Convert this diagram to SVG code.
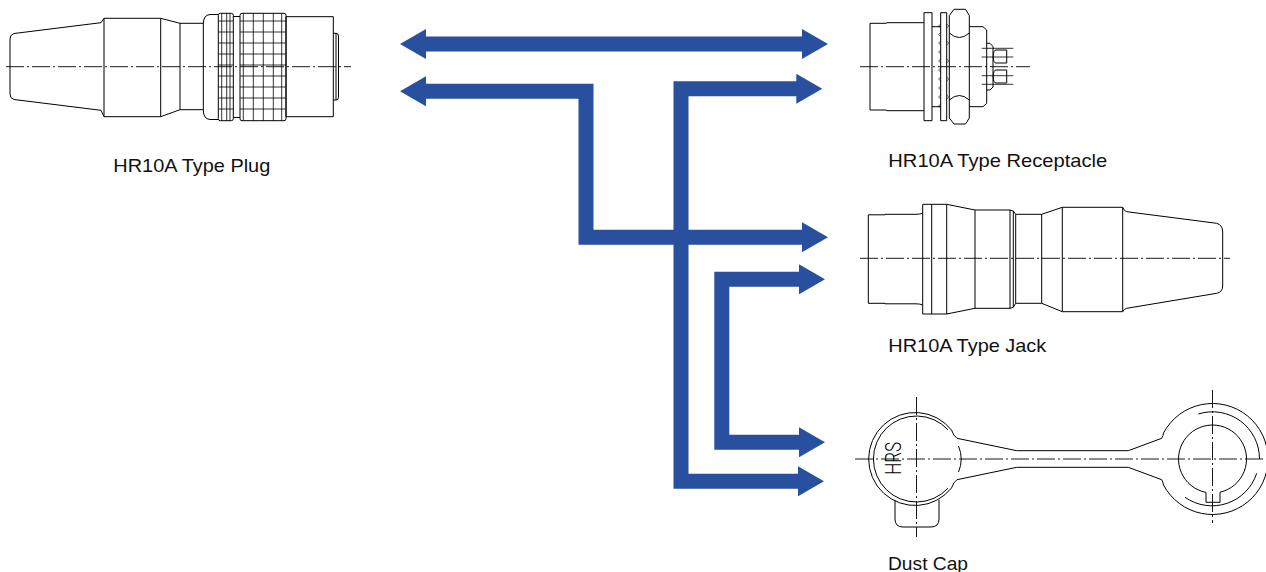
<svg xmlns="http://www.w3.org/2000/svg" width="1266" height="572" viewBox="0 0 1266 572">
<style>
.ln{fill:none;stroke:#000;stroke-width:1;stroke-linejoin:round}
.cl{fill:none;stroke:#000;stroke-width:0.9;stroke-dasharray:18 3 2 3}
.kn{fill:none;stroke:#000;stroke-width:0.8}
.th{fill:none;stroke:#000;stroke-width:0.6}
.lbl{font-family:"Liberation Sans",Arial,sans-serif;font-size:18.5px;fill:#111}
.con{fill:none;stroke:#294f9f;stroke-width:15;stroke-linejoin:miter;stroke-linecap:butt}
</style>
<defs>
<marker id="ah" markerUnits="userSpaceOnUse" markerWidth="27" markerHeight="30" refX="1" refY="15" orient="auto-start-reverse" viewBox="0 0 27 30">
<path d="M0,0 L26,15 L0,30 Z" fill="#294f9f"/>
</marker>
</defs>
<rect width="1266" height="572" fill="#fff"/>

<g id="plug">
<path class="cl" d="M6,66.7 H351"/>
<path class="ln" d="M104,18.3 L101,22.7 L14,33.5 Q10,34.5 10,39 V94 Q10,98.5 14,99.5 L101,110.3 L104,116.7"/>
<rect class="ln" x="104" y="18.3" width="56.7" height="98.4"/>
<path class="ln" d="M160.7,18.3 L180,23.3 V109.7 L160.7,116.7 M180,23.3 H203.3 M180,109.7 H203.3"/>
<path class="ln" d="M218.3,14.5 H210 Q203.3,15 203.3,24 V110 Q203.3,119 210,119.5 H218.3"/>
<rect class="ln" x="218.3" y="13.3" width="15" height="107.4" rx="2"/>
<path class="ln" d="M233.3,16.5 H240 M233.3,117.5 H240"/>
<rect class="ln" x="240" y="13.3" width="46" height="107.4" rx="2"/>
<path class="kn" d="M221.7,13.3 V120.7 M226.7,13.3 V120.7 M230,13.3 V120.7 M243.3,13.3 V120.7 M253.3,13.3 V120.7 M263.3,13.3 V120.7 M273.3,13.3 V120.7 M281.7,13.3 V120.7
M218.3,21 H233.3 M218.3,32 H233.3 M218.3,43 H233.3 M218.3,54 H233.3 M218.3,65 H233.3 M218.3,76 H233.3 M218.3,87 H233.3 M218.3,98 H233.3 M218.3,109 H233.3
M240,21 H286 M240,32 H286 M240,43 H286 M240,54 H286 M240,65 H286 M240,76 H286 M240,87 H286 M240,98 H286 M240,109 H286"/>
<rect class="ln" x="286" y="16.7" width="47.3" height="100"/>
<path class="ln" d="M333.3,33.3 H336 Q338.5,33.3 338.5,36 V97.3 Q338.5,100 336,100 H333.3 M336,33.3 V100"/>
</g>

<g id="receptacle">
<path class="cl" d="M860,66.7 H1030"/>
<path class="ln" d="M924,22.7 H887 L886,23.3 H870 V110 H886 L887,110.7 H924"/>
<rect class="ln" x="924" y="12.7" width="8" height="108"/>
<path class="ln" d="M932,26.7 H940.7 M932,106.7 H940.7"/>
<path class="th" d="M940.7,24 L938.5,26 L940.7,28 M940.7,32.5 L938.5,34.5 L940.7,36.5 M940.7,41 L938.5,43 L940.7,45 M940.7,50 L938.5,52 L940.7,54 M940.7,59 L938.5,61 L940.7,63 M940.7,68 L938.5,70 L940.7,72 M940.7,77 L938.5,79 L940.7,81 M940.7,86 L938.5,88 L940.7,90 M940.7,95 L938.5,97 L940.7,99 M940.7,104 L938.5,106 L940.7,108
M946.7,24 L948.7,26 L946.7,28 M946.7,41 L948.7,43 L946.7,45 M946.7,59 L948.7,61 L946.7,63 M946.7,77 L948.7,79 L946.7,81 M946.7,95 L948.7,97 L946.7,99"/>
<rect class="ln" x="940.7" y="12.7" width="6" height="108"/>
<path class="ln" d="M954,9.3 H965.5 L969.3,15.5 V118 L965.5,124 H954 L949.3,118 V15.5 Z"/>
<path class="ln" d="M949.3,33 Q959.3,42 969.3,33 M949.3,100 Q959.3,91 969.3,100"/>
<path class="ln" d="M969.3,26.7 H983 L986.7,30 V103.3 L983,106.7 H969.3"/>
<path class="ln" d="M986.7,43.3 H990 L993,46.5 V87 L990,90 H986.7"/>
<path class="kn" d="M981.7,48.3 H1013.3 M981.7,57 H1013.3 M981.7,75.7 H1013.3 M981.7,84.3 H1013.3"/>
<path class="ln" d="M1006.7,50 H996 Q993.3,50 993.3,56.5 Q993.3,63 996,63 H1006.7 V50 M1006.7,70 H996 Q993.3,70 993.3,76.5 Q993.3,83 996,83 H1006.7 V70"/>
</g>

<g id="jack">
<path class="cl" d="M860,258.3 H1230"/>
<path class="ln" d="M922.7,213.3 Q920,214.3 916,214.3 H885 V214.8 H868.3 V303.3 H885 V303.8 H916 Q920,303.8 922.7,305"/>
<rect class="ln" x="922.7" y="204.3" width="24" height="109.7"/>
<path class="ln" d="M931.7,204.3 V314"/>
<path class="ln" d="M946.7,204.3 L975,210 M946.7,314 L975,308.3"/>
<rect class="ln" x="975" y="210" width="35" height="98.3"/>
<path class="ln" d="M1013.3,211 V307.3 M1010,210 L1013.3,211 L1015.7,214.3 M1010,308.3 L1013.3,307.3 L1015.7,303.3"/>
<path class="ln" d="M1015.7,214.3 H1041.7 V303.3 H1015.7 Z"/>
<path class="ln" d="M1041.7,214.3 L1062.3,207.3 M1041.7,303.3 L1062.3,311.7"/>
<rect class="ln" x="1062.3" y="207.3" width="60.4" height="104.4"/>
<path class="ln" d="M1122.7,207.3 Q1124,211 1126.7,211.7 L1216.7,223.3 Q1222.7,225 1222.7,232 V286 Q1222.7,292 1216.7,293.3 L1126.7,308.3 Q1124,309 1122.7,311.7"/>
</g>

<g id="dustcap">
<path class="cl" d="M855,459 H1266 M916.5,397 V537 M1212.5,390 V523"/>
<path class="ln" d="M957,438.3 Q953.5,436 951.5,430 A46.5,46.5 0 1 0 951.5,488 Q953.5,482 957,479.7"/>
<path class="ln" d="M947.9,429.7 A43,43 0 1 0 947.9,488.3 M958.5,446 Q964,459 958.5,472"/>
<path class="ln" d="M957,438.3 L1016.7,450.7 H1128.3 L1161.7,438.3 M957,479.7 L1016.7,467.3 H1128.3 L1161.7,479.7"/>
<path class="ln" d="M895,500.2 V519 Q895,527 903,527 H931 Q939,527 939,519 V499.7"/>
<text transform="translate(900.5,458.3) rotate(-90)" text-anchor="middle" font-family="Roboto, 'DejaVu Sans', sans-serif" font-weight="300" font-size="22" textLength="33" lengthAdjust="spacingAndGlyphs" fill="#000">HRS</text>
<path class="ln" d="M1161.7,438.3 Q1163,436 1163.5,433 A55.5,55.5 0 1 1 1163.5,485 Q1163,482 1161.7,479.7"/>
<path class="ln" d="M1198.3,414 A47,47 0 0 1 1259.5,459 M1256.7,473.3 A47,47 0 0 1 1185,497.3"/>
<path class="ln" d="M1206,492.4 A34,34 0 1 1 1220,492.2 V502.3 H1206 Z"/>
</g>

<g id="labels">
<text class="lbl" x="113.3" y="172" textLength="157" lengthAdjust="spacingAndGlyphs">HR10A Type Plug</text>
<text class="lbl" x="888.3" y="166.7" textLength="219" lengthAdjust="spacingAndGlyphs">HR10A Type Receptacle</text>
<text class="lbl" x="888.3" y="351.7" textLength="158" lengthAdjust="spacingAndGlyphs">HR10A Type Jack</text>
<text class="lbl" x="888" y="570" textLength="80" lengthAdjust="spacingAndGlyphs">Dust Cap</text>
</g>

<g id="connectors">
<path class="con" d="M425,44 H803" marker-start="url(#ah)" marker-end="url(#ah)"/>
<path class="con" d="M425,91.3 H586 V237.2 H803" marker-start="url(#ah)" marker-end="url(#ah)"/>
<path class="con" d="M797.3,88.8 H681 V481.3 H799" marker-start="url(#ah)" marker-end="url(#ah)"/>
<path class="con" d="M800,279.3 H721.8 V442.3 H800" marker-start="url(#ah)" marker-end="url(#ah)"/>
</g>
</svg>
